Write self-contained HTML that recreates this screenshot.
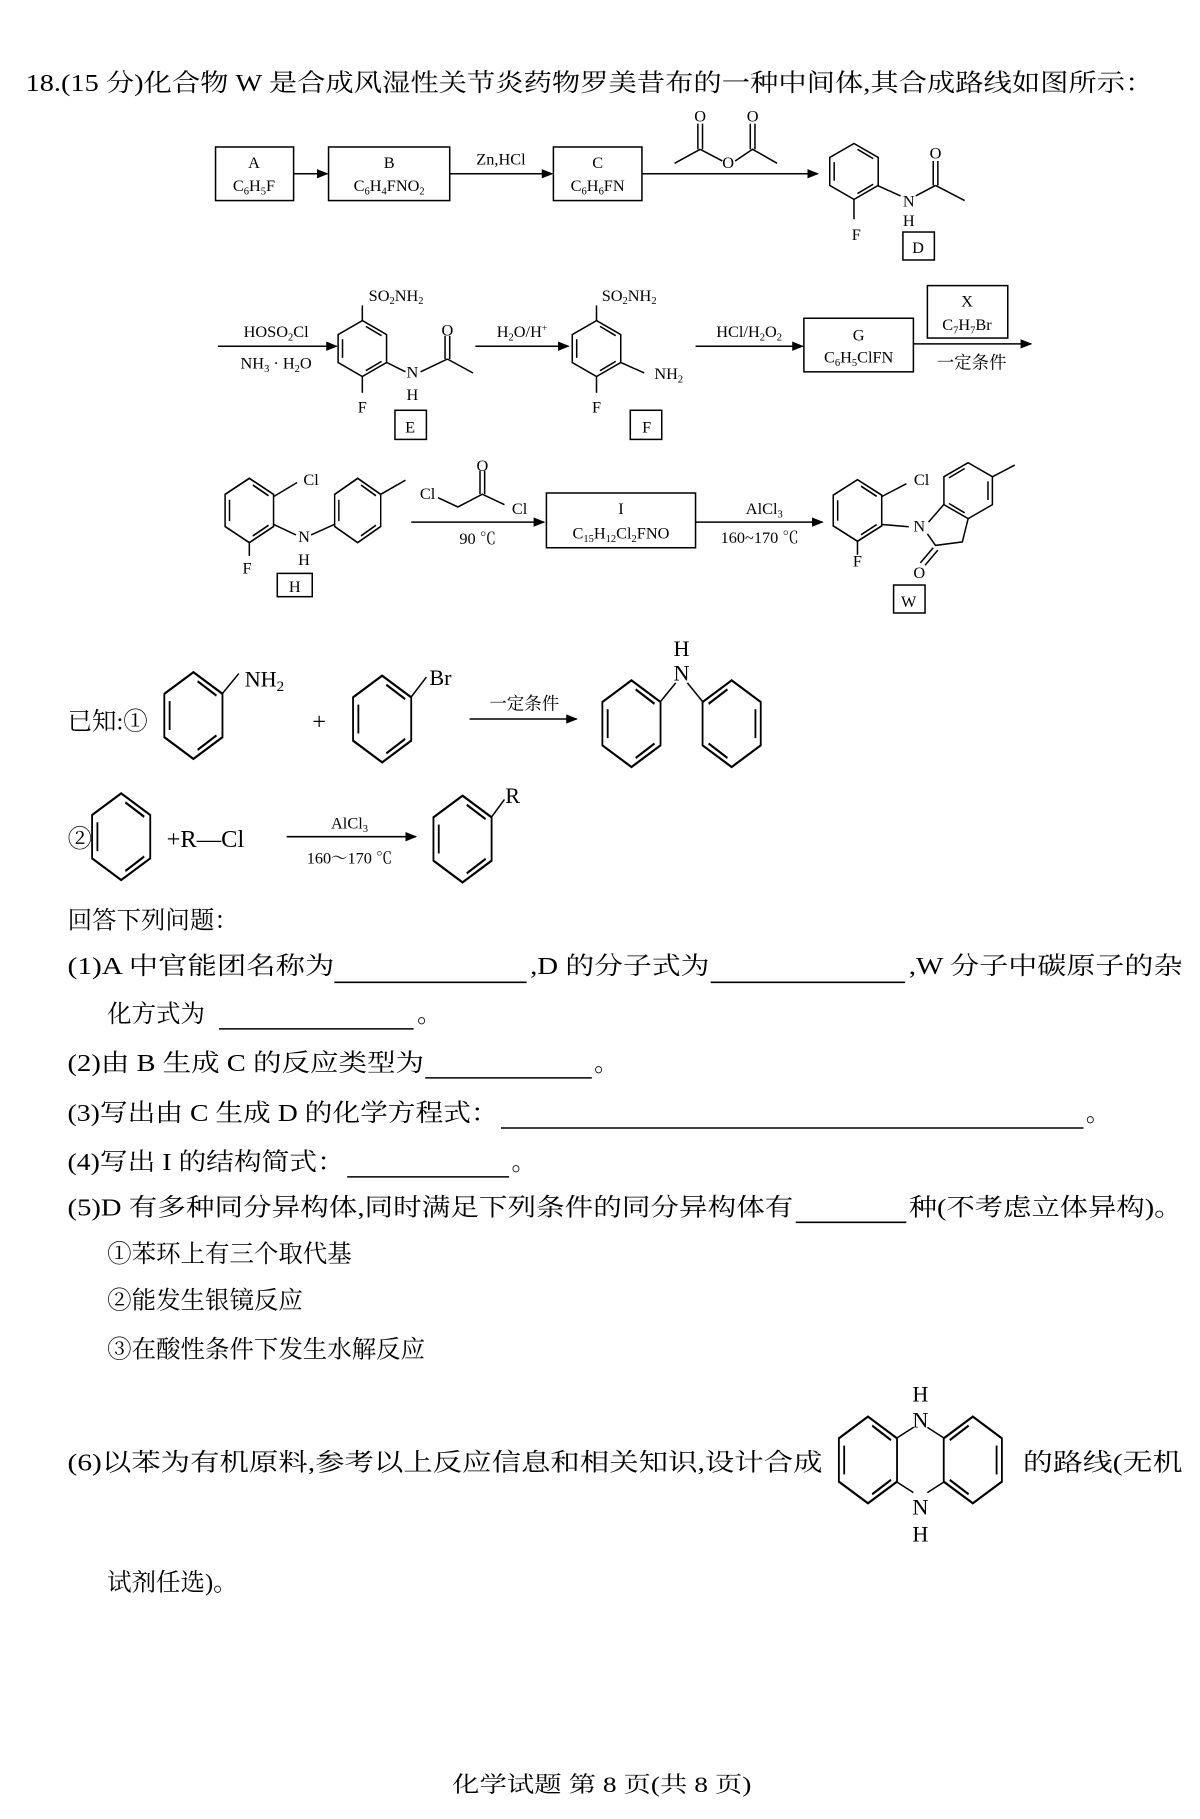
<!DOCTYPE html>
<html><head><meta charset="utf-8"><style>
html,body{margin:0;padding:0;background:#fff}
svg{display:block}
text{font-family:"Liberation Serif","Noto Serif CJK SC",serif;fill:#000}
.s{font-size:14px}
.m{font-size:21px}
</style></head><body>
<svg width="1200" height="1819" viewBox="0 0 1030 1561" xmlns="http://www.w3.org/2000/svg">
<defs>
<g id="bz" fill="none" stroke="#000" stroke-width="1.3">
<polygon points="0,-24 20.8,-12 20.8,12 0,24 -20.8,12 -20.8,-12"/>
<line x1="-17" y1="-8" x2="-17" y2="8"/>
<line x1="3" y1="-19" x2="16.5" y2="-11"/>
<line x1="3" y1="19" x2="16.5" y2="11"/>
</g>
<marker id="ar" markerWidth="10" markerHeight="8" refX="9" refY="4" orient="auto" markerUnits="userSpaceOnUse">
<path d="M0,0 L10,4 L0,8 Z" fill="#000"/></marker>
</defs>
<g stroke="#000" stroke-width="1.3" fill="none">
<!-- row 1 -->
<rect x="185" y="126" width="67" height="46"/>
<rect x="282" y="126" width="104" height="46"/>
<rect x="475" y="126" width="76" height="46"/>
<line x1="252" y1="149" x2="281" y2="149" marker-end="url(#ar)"/>
<line x1="386" y1="149" x2="474" y2="149" marker-end="url(#ar)"/>
<line x1="551" y1="149" x2="702" y2="149" marker-end="url(#ar)"/>
<polyline points="579,140 601,128"/>
<polyline points="601,128 620,138"/>
<polyline points="631,138 646,128 667,140"/>
<line x1="599" y1="128" x2="599" y2="106"/><line x1="603" y1="128" x2="603" y2="106"/>
<line x1="644" y1="128" x2="644" y2="106"/><line x1="648" y1="128" x2="648" y2="106"/>
<!-- D -->
<line x1="753" y1="159" x2="773" y2="168"/>
<line x1="733" y1="171" x2="733" y2="188"/>
<line x1="786" y1="168" x2="803" y2="159"/>
<line x1="803" y1="159" x2="828" y2="172"/>
<line x1="801" y1="159" x2="801" y2="138"/><line x1="805" y1="159" x2="805" y2="138"/>
<rect x="775" y="199" width="27" height="24"/>
<!-- row 2 -->
<line x1="187" y1="297" x2="289" y2="297" marker-end="url(#ar)"/>
<line x1="311" y1="275" x2="311" y2="262"/>
<line x1="311" y1="323" x2="311" y2="337"/>
<line x1="332" y1="311" x2="348" y2="319"/>
<line x1="361" y1="319" x2="384" y2="308"/>
<line x1="384" y1="308" x2="406" y2="320"/>
<line x1="382" y1="308" x2="382" y2="288"/><line x1="386" y1="308" x2="386" y2="288"/>
<rect x="339" y="352" width="27" height="25"/>
<line x1="408" y1="297" x2="488" y2="297" marker-end="url(#ar)"/>
<line x1="512" y1="275" x2="512" y2="262"/>
<line x1="512" y1="323" x2="512" y2="337"/>
<line x1="533" y1="311" x2="553" y2="320"/>
<rect x="541" y="352" width="27" height="25"/>
<line x1="597" y1="297" x2="689" y2="297" marker-end="url(#ar)"/>
<rect x="690" y="273" width="94" height="46"/>
<rect x="796" y="245" width="69" height="45"/>
<line x1="784" y1="295" x2="885" y2="295" marker-end="url(#ar)"/>
<!-- row 3 H -->
<line x1="235" y1="426" x2="255" y2="414"/>
<line x1="214" y1="466" x2="214" y2="477"/>
<line x1="235" y1="450" x2="254" y2="459"/>
<line x1="267" y1="459" x2="287" y2="450"/>
<line x1="327" y1="424" x2="348" y2="412"/>
<rect x="238" y="492" width="30" height="20"/>
<line x1="353" y1="448" x2="467" y2="448" marker-end="url(#ar)"/>
<polyline points="376,427 393,435 414,424 433,433"/>
<line x1="412" y1="424" x2="412" y2="404"/><line x1="416" y1="424" x2="416" y2="404"/>
<rect x="469" y="423" width="128" height="47"/>
<line x1="597" y1="448" x2="706" y2="448" marker-end="url(#ar)"/>
<!-- W -->
<line x1="757" y1="426" x2="778" y2="415"/>
<line x1="736" y1="464" x2="736" y2="476"/>
<line x1="757" y1="450" x2="780" y2="452"/>
<polyline points="796,458 803,468 826,465 831,445"/>
<line x1="797" y1="448" x2="810" y2="433"/>
<line x1="801" y1="470" x2="790" y2="483"/><line x1="805" y1="472" x2="794" y2="485"/>
<line x1="852" y1="409" x2="871" y2="399"/>
<rect x="767" y="502" width="27" height="24"/>
<!-- known 1 -->
<line x1="191" y1="595" x2="205" y2="578"/>
<line x1="353" y1="598" x2="366" y2="581"/>
<line x1="403" y1="617" x2="495" y2="617" marker-end="url(#ar)"/>
<line x1="567" y1="602" x2="580" y2="586"/>
<line x1="590" y1="586" x2="603" y2="602"/>
<!-- known 2 -->
<line x1="246" y1="718" x2="357" y2="718" marker-end="url(#ar)"/>
<line x1="422" y1="701" x2="433" y2="686"/>
<!-- blanks -->
<line x1="287" y1="843" x2="452" y2="843"/>
<line x1="610" y1="843" x2="777" y2="843"/>
<line x1="188" y1="883" x2="355" y2="883"/>
<line x1="365" y1="925" x2="508" y2="925"/>
<line x1="430" y1="968" x2="930" y2="968"/>
<line x1="298" y1="1010" x2="437" y2="1010"/>
<line x1="683" y1="1049" x2="778" y2="1049"/>
<!-- (6) -->
<line x1="770" y1="1234" x2="784" y2="1225"/>
<line x1="796" y1="1225" x2="810" y2="1234"/>
<line x1="770" y1="1272" x2="784" y2="1281"/>
<line x1="796" y1="1281" x2="810" y2="1272"/>
</g>
<!-- rings -->
<use href="#bz" transform="translate(733,147)"/>
<use href="#bz" transform="translate(311,299)"/>
<use href="#bz" transform="translate(512,299)"/>
<use href="#bz" transform="translate(214,438) scale(1,1.15)"/>
<use href="#bz" transform="translate(307,438) scale(0.95,1.15)"/>
<use href="#bz" transform="translate(736,438) scale(1,1.1)"/>
<use href="#bz" transform="translate(831,421) scale(-1,1)"/>
<use href="#bz" transform="translate(166,614) scale(1.2,1.55)"/>
<use href="#bz" transform="translate(328,617) scale(1.2,1.55)"/>
<use href="#bz" transform="translate(542,621) scale(1.2,1.55)"/>
<use href="#bz" transform="translate(628,621) scale(-1.2,1.55)"/>
<use href="#bz" transform="translate(104,718) scale(1.2,1.55)"/>
<use href="#bz" transform="translate(397,720) scale(1.2,1.55)"/>
<use href="#bz" transform="translate(745,1253) scale(1.2,1.55)"/>
<use href="#bz" transform="translate(835,1253) scale(-1.2,1.55)"/>

<!-- text -->
<text class="m" x="22" y="78" textLength="968" lengthAdjust="spacingAndGlyphs">18.(15 分)化合物 W 是合成风湿性关节炎药物罗美昔布的一种中间体,其合成路线如图所示：</text>
<g class="s" text-anchor="middle">
<text x="218" y="144">A</text>
<text x="218" y="164">C<tspan font-size="9" dy="3">6</tspan><tspan dy="-3">H</tspan><tspan font-size="9" dy="3">5</tspan><tspan dy="-3">F</tspan></text>
<text x="334" y="144">B</text>
<text x="334" y="164">C<tspan font-size="9" dy="3">6</tspan><tspan dy="-3">H</tspan><tspan font-size="9" dy="3">4</tspan><tspan dy="-3">FNO</tspan><tspan font-size="9" dy="3">2</tspan></text>
<text x="430" y="141">Zn,HCl</text>
<text x="513" y="144">C</text>
<text x="513" y="164">C<tspan font-size="9" dy="3">6</tspan><tspan dy="-3">H</tspan><tspan font-size="9" dy="3">6</tspan><tspan dy="-3">FN</tspan></text>
<text x="601" y="104">O</text><text x="646" y="104">O</text>
<text x="625" y="144">O</text>
<text x="803" y="136">O</text>
<text x="780" y="177">N</text><text x="780" y="194">H</text>
<text x="735" y="206">F</text>
<text x="788" y="217">D</text>
<text x="237" y="289">HOSO<tspan font-size="9" dy="3">2</tspan><tspan dy="-3">Cl</tspan></text>
<text x="237" y="316">NH<tspan font-size="9" dy="3">3</tspan><tspan dy="-3"> · H</tspan><tspan font-size="9" dy="3">2</tspan><tspan dy="-3">O</tspan></text>
<text x="340" y="258">SO<tspan font-size="9" dy="3">2</tspan><tspan dy="-3">NH</tspan><tspan font-size="9" dy="3">2</tspan></text>
<text x="384" y="288">O</text>
<text x="354" y="324">N</text><text x="354" y="343">H</text>
<text x="311" y="354">F</text>
<text x="352" y="371">E</text>
<text x="448" y="289">H<tspan font-size="9" dy="3">2</tspan><tspan dy="-3">O/H</tspan><tspan font-size="8" dy="-5">+</tspan></text>
<text x="540" y="258">SO<tspan font-size="9" dy="3">2</tspan><tspan dy="-3">NH</tspan><tspan font-size="9" dy="3">2</tspan></text>
<text x="574" y="325">NH<tspan font-size="9" dy="3">2</tspan></text>
<text x="512" y="354">F</text>
<text x="555" y="371">F</text>
<text x="643" y="289">HCl/H<tspan font-size="9" dy="3">2</tspan><tspan dy="-3">O</tspan><tspan font-size="9" dy="3">2</tspan></text>
<text x="737" y="292">G</text>
<text x="737" y="311">C<tspan font-size="9" dy="3">6</tspan><tspan dy="-3">H</tspan><tspan font-size="9" dy="3">5</tspan><tspan dy="-3">ClFN</tspan></text>
<text x="830" y="263">X</text>
<text x="830" y="283">C<tspan font-size="9" dy="3">7</tspan><tspan dy="-3">H</tspan><tspan font-size="9" dy="3">7</tspan><tspan dy="-3">Br</tspan></text>
<text x="834" y="316" font-size="15">一定条件</text>
<text x="267" y="416">Cl</text>
<text x="212" y="492">F</text>
<text x="261" y="465">N</text><text x="261" y="485">H</text>
<text x="253" y="508">H</text>
<text x="367" y="428">Cl</text>
<text x="414" y="404">O</text>
<text x="446" y="441">Cl</text>
<text x="410" y="467">90 ℃</text>
<text x="533" y="441">I</text>
<text x="533" y="462">C<tspan font-size="9" dy="3">15</tspan><tspan dy="-3">H</tspan><tspan font-size="9" dy="3">12</tspan><tspan dy="-3">Cl</tspan><tspan font-size="9" dy="3">2</tspan><tspan dy="-3">FNO</tspan></text>
<text x="656" y="441">AlCl<tspan font-size="9" dy="3">3</tspan></text>
<text x="652" y="466">160~170 ℃</text>
<text x="791" y="416">Cl</text>
<text x="736" y="486">F</text>
<text x="789" y="456">N</text>
<text x="789" y="496">O</text>
<text x="780" y="521">W</text>
</g>
<g text-anchor="middle" font-size="19">
<text x="227" y="589">NH<tspan font-size="13" dy="4">2</tspan></text>
<text x="378" y="588">Br</text>
<text x="585" y="563">H</text>
<text x="585" y="584">N</text>
<text x="440" y="689">R</text>
</g>
<text class="m" x="58" y="626">已知:①</text>
<text class="m" x="268" y="626">+</text>
<text x="450" y="609" font-size="15" text-anchor="middle">一定条件</text>
<text class="m" x="58" y="727">②</text>
<text class="m" x="143" y="727">+R—Cl</text>
<text x="300" y="711" font-size="14" text-anchor="middle">AlCl<tspan font-size="9" dy="3">3</tspan></text>
<text x="300" y="741" font-size="14" text-anchor="middle">160～170 ℃</text>

<g class="m">
<text x="58" y="797">回答下列问题：</text>
<text x="58" y="836" textLength="229" lengthAdjust="spacingAndGlyphs">(1)A 中官能团名称为</text>
<text x="455" y="836" textLength="154" lengthAdjust="spacingAndGlyphs">,D 的分子式为</text>
<text x="780" y="836" textLength="235" lengthAdjust="spacingAndGlyphs">,W 分子中碳原子的杂</text>
<text x="92" y="877">化方式为</text><text x="358" y="877">。</text>
<text x="58" y="919" textLength="306" lengthAdjust="spacingAndGlyphs">(2)由 B 生成 C 的反应类型为</text><text x="510" y="919">。</text>
<text x="58" y="962" textLength="370" lengthAdjust="spacingAndGlyphs">(3)写出由 C 生成 D 的化学方程式：</text><text x="932" y="962">。</text>
<text x="58" y="1004" textLength="238" lengthAdjust="spacingAndGlyphs">(4)写出 I 的结构简式：</text><text x="439" y="1004">。</text>
<text x="58" y="1043" textLength="623" lengthAdjust="spacingAndGlyphs">(5)D 有多种同分异构体,同时满足下列条件的同分异构体有</text>
<text x="780" y="1043" textLength="235" lengthAdjust="spacingAndGlyphs">种(不考虑立体异构)。</text>
<text x="92" y="1083">①苯环上有三个取代基</text>
<text x="92" y="1123">②能发生银镜反应</text>
<text x="92" y="1165">③在酸性条件下发生水解反应</text>
<text x="58" y="1262" textLength="648" lengthAdjust="spacingAndGlyphs">(6)以苯为有机原料,参考以上反应信息和相关知识,设计合成</text>
<text x="878" y="1262" textLength="137" lengthAdjust="spacingAndGlyphs">的路线(无机</text>
<text x="92" y="1365">试剂任选)。</text>
</g>
<g text-anchor="middle" font-size="19">
<text x="790" y="1203">H</text>
<text x="790" y="1225">N</text>
<text x="790" y="1300">N</text>
<text x="790" y="1323">H</text>
</g>
<text x="388" y="1538" font-size="19" textLength="257" lengthAdjust="spacingAndGlyphs">化学试题 第 8 页(共 8 页)</text>
</svg>
</body></html>
